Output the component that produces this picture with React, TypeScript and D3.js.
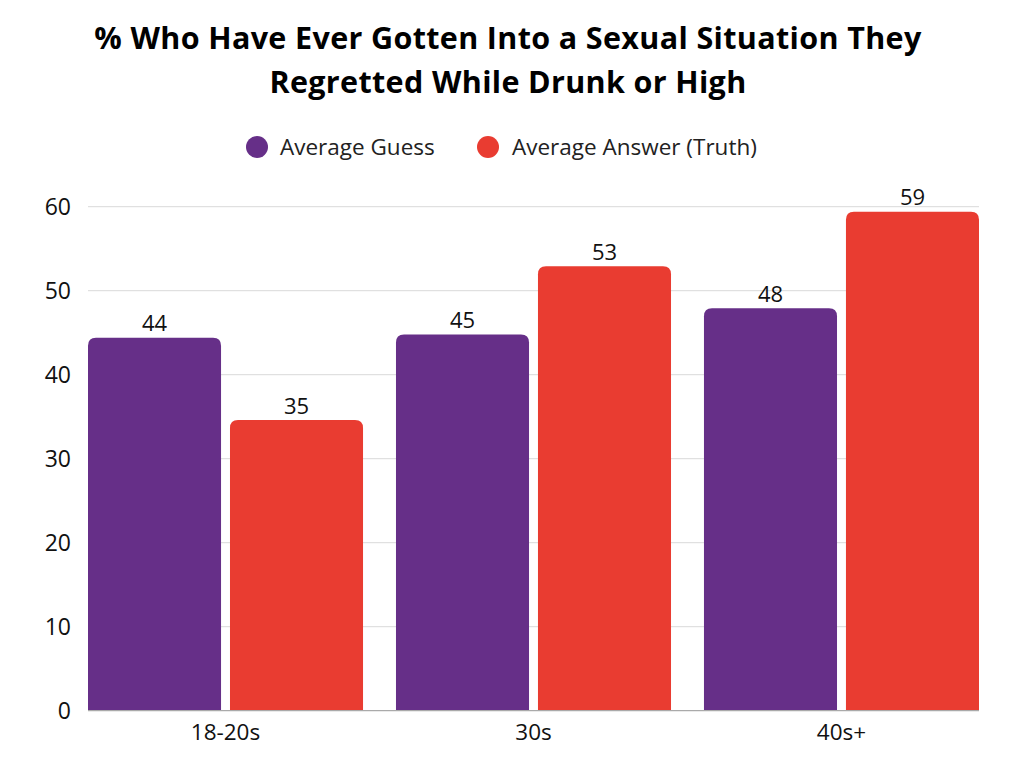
import React from "react";
import * as d3 from "d3";

const categories = ["18-20s", "30s", "40s+"];
const seriesNames = ["Average Guess", "Average Answer (Truth)"];
const averageGuess = [44.4, 44.8, 47.9];
const averageAnswer = [34.6, 52.9, 59.4];
const yTicks = [0, 10, 20, 30, 40, 50, 60];
const titleLines = [
  "% Who Have Ever Gotten Into a Sexual Situation They",
  "Regretted While Drunk or High",
];
const colors = ["#662F88", "#E93C31"];

const W = 1024;
const H = 768;
const margin = { left: 88, right: 45, top: 206.7, bottom: 57.3 };
const FONT = "'Open Sans', Lato, sans-serif";

function topRoundedRect(x: number, y: number, w: number, h: number, r: number) {
  const rr = Math.min(r, h, w / 2);
  return `M${x},${y + h}V${y + rr}Q${x},${y} ${x + rr},${y}H${x + w - rr}Q${x + w},${y} ${x + w},${y + rr}V${y + h}Z`;
}

export default function App() {
  const x0 = d3
    .scaleBand<string>()
    .domain(categories)
    .range([margin.left, W - margin.right])
    .paddingInner(0.107)
    .paddingOuter(0);
  const x1 = d3
    .scaleBand<string>()
    .domain(seriesNames)
    .range([0, x0.bandwidth()])
    .paddingInner(0.063)
    .paddingOuter(0);
  const y = d3.scaleLinear().domain([0, 60]).range([H - margin.bottom, margin.top]);

  const series = [averageGuess, averageAnswer];

  return (
    <svg
      width={W}
      height={H}
      style={{ position: "absolute", left: 0, top: 0, background: "#fff" }}
    >
      <rect width={W} height={H} fill="#fff" />
      {titleLines.map((t, i) => (
        <text
          key={i}
          x={508}
          y={49 + i * 44}
          textAnchor="middle"
          fontFamily={FONT}
          fontWeight={700}
          fontSize={30.5}
          letterSpacing={0.35}
          fill="#000"
        >
          {t}
        </text>
      ))}
      {/* legend */}
      {[
        { cx: 257, tx: 280 },
        { cx: 488, tx: 512 },
      ].map((l, i) => (
        <g key={i}>
          <circle cx={l.cx} cy={147} r={11} fill={colors[i]} />
          <text
            x={l.tx}
            y={147}
            dy="0.35em"
            fontFamily={FONT}
            fontSize={22.5}
            fill="#222"
          >
            {seriesNames[i]}
          </text>
        </g>
      ))}
      {/* gridlines */}
      {yTicks.map((t) => (
        <g key={t}>
          {t !== 0 && (
            <line
              x1={margin.left}
              x2={W - margin.right}
              y1={y(t)}
              y2={y(t)}
              stroke="#d9d9d9"
              strokeWidth={1}
            />
          )}
          <text
            x={71}
            y={y(t)}
            dy="0.35em"
            textAnchor="end"
            fontFamily={FONT}
            fontSize={23}
            fill="#111"
          >
            {t}
          </text>
        </g>
      ))}
      {/* bars */}
      {categories.map((c, ci) => (
        <g key={c} transform={`translate(${x0(c)},0)`}>
          {seriesNames.map((s, si) => {
            const v = series[si][ci];
            const bx = x1(s)!;
            const bw = x1.bandwidth();
            const by = y(v);
            const bh = y(0) - by;
            return (
              <g key={s}>
                <path d={topRoundedRect(bx, by, bw, bh, 8)} fill={colors[si]} />
                <text
                  x={bx + bw / 2}
                  y={by - 6.5}
                  textAnchor="middle"
                  fontFamily={FONT}
                  fontSize={22}
                  fill="#111"
                >
                  {Math.round(v)}
                </text>
              </g>
            );
          })}
        </g>
      ))}
      {/* axis line */}
      <line
        x1={margin.left}
        x2={W - margin.right}
        y1={y(0)}
        y2={y(0)}
        stroke="#aaaaaa"
        strokeWidth={1.2}
      />
      {categories.map((c) => (
        <text
          key={c}
          x={x0(c)! + x0.bandwidth() / 2}
          y={732}
          dy="0.35em"
          textAnchor="middle"
          fontFamily={FONT}
          fontSize={22.5}
          fill="#111"
        >
          {c}
        </text>
      ))}
    </svg>
  );
}
